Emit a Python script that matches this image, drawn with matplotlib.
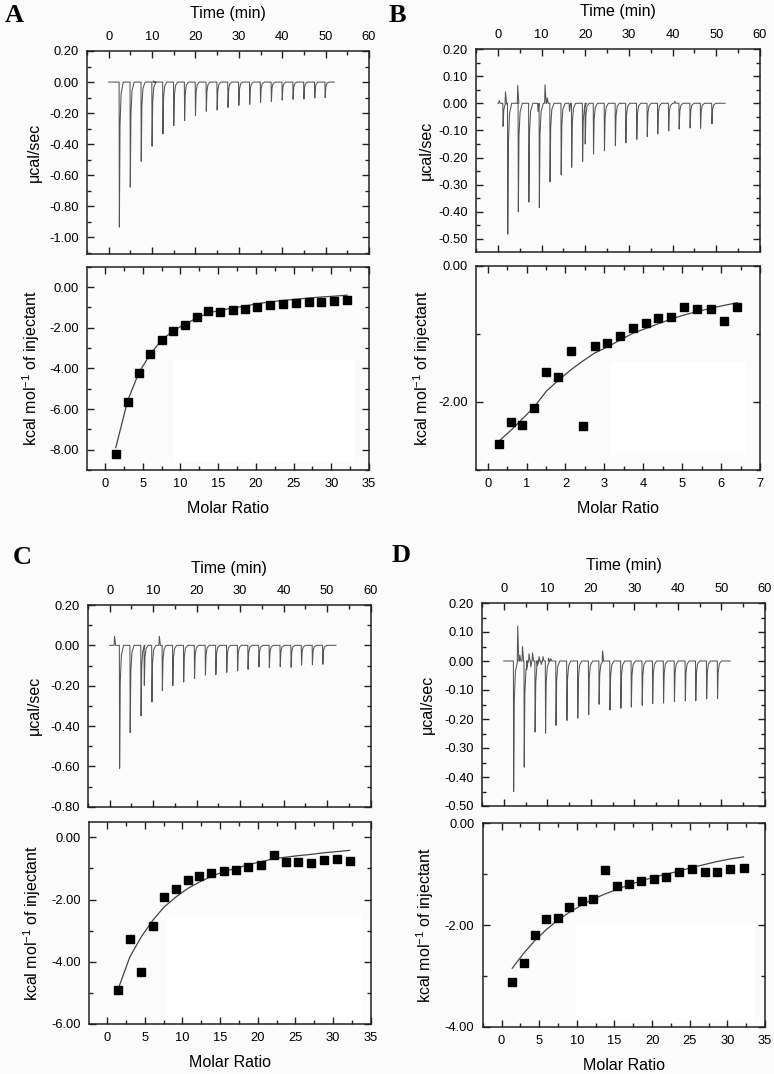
import matplotlib
matplotlib.use("Agg")
import matplotlib.pyplot as plt
from matplotlib.ticker import MultipleLocator, FormatStrFormatter
from matplotlib.patches import Rectangle

plt.rcParams['font.family'] = ['Liberation Sans', 'DejaVu Sans']
plt.rcParams['mathtext.default'] = 'regular'

# ---------------- data ----------------
# Panel A raw thermogram
A_inj_t = [2.46, 4.98, 7.5, 10.0, 12.5, 15.0, 17.5, 20.0, 22.5, 25.0, 27.5, 30.0,
           32.5, 35.0, 37.5, 40.0, 42.5, 45.0, 47.5, 49.9]
A_inj_h = [-0.934, -0.677, -0.51, -0.413, -0.334, -0.28, -0.248, -0.214, -0.188, -0.18,
           -0.163, -0.15, -0.143, -0.133, -0.124, -0.116, -0.111, -0.109, -0.103, -0.10]
A_art_t = [10.3]
A_art_h = [0.008]
# Panel A isotherm
A_ratio = [1.42, 2.98, 4.49, 6.0, 7.5, 9.06, 10.6, 12.2, 13.7, 15.3, 17.0, 18.6, 20.2,
           21.9, 23.6, 25.3, 27.0, 28.7, 30.4, 32.1]
A_heat = [-8.23, -5.66, -4.23, -3.30, -2.61, -2.15, -1.87, -1.49, -1.20, -1.25, -1.13,
          -1.08, -0.97, -0.90, -0.84, -0.77, -0.74, -0.72, -0.67, -0.62]
A_fit = [-7.9, -5.6, -4.2, -3.3, -2.6, -2.15, -1.82, -1.52, -1.28, -1.14, -1.03, -0.93,
         -0.82, -0.73, -0.66, -0.60, -0.54, -0.49, -0.45, -0.40]

# Panel B raw thermogram
B_inj_t = [2.27, 4.69, 7.1, 9.5, 11.95, 14.5, 16.9, 19.4, 21.9, 24.4, 26.9, 29.3, 31.8,
           34.2, 36.6, 39.1, 41.5, 44.0, 46.4, 49.0]
B_inj_h = [-0.482, -0.40, -0.364, -0.384, -0.289, -0.264, -0.236, -0.214, -0.187, -0.175,
           -0.156, -0.146, -0.133, -0.123, -0.113, -0.102, -0.095, -0.091, -0.092, -0.076]
B_art_t = [0.3, 1.2, 1.75, 4.55, 9.2, 10.8, 11.3, 16.4, 20.0, 40.5]
B_art_h = [0.01, -0.085, 0.042, 0.066, -0.03, 0.068, 0.02, -0.03, -0.15, 0.008]
# Panel B isotherm
B_ratio = [0.30, 0.59, 0.89, 1.2, 1.51, 1.82, 2.13, 2.44, 2.75, 3.08, 3.4, 3.73, 4.06,
           4.38, 4.72, 5.05, 5.39, 5.74, 6.07, 6.42]
B_heat = [-2.614, -2.295, -2.339, -2.084, -1.558, -1.631, -1.253, -2.354, -1.174, -1.130,
          -1.027, -0.914, -0.845, -0.762, -0.747, -0.600, -0.629, -0.629, -0.811, -0.604]
B_fit = [-2.57, -2.42, -2.25, -2.07, -1.84, -1.68, -1.53, -1.40, -1.28, -1.19, -1.09,
         -0.99, -0.92, -0.85, -0.78, -0.72, -0.67, -0.62, -0.58, -0.54]

# Panel C raw thermogram
C_inj_t = [2.27, 4.7, 7.2, 7.95, 9.7, 12.1, 14.5, 17.0, 19.5, 22.0, 24.4, 26.9, 29.4, 31.8,
           34.3, 36.7, 39.2, 41.7, 44.1, 46.6, 49.0]
C_inj_h = [-0.61, -0.433, -0.349, -0.198, -0.281, -0.225, -0.2, -0.182, -0.164, -0.147,
           -0.145, -0.134, -0.126, -0.119, -0.107, -0.111, -0.106, -0.109, -0.098, -0.096,
           -0.094]
C_art_t = [1.1, 11.4]
C_art_h = [0.045, 0.045]
# Panel C isotherm
C_ratio = [1.51, 3.03, 4.54, 6.06, 7.57, 9.13, 10.69, 12.24, 13.85, 15.5, 17.14, 18.75,
           20.4, 22.1, 23.7, 25.4, 27.07, 28.76, 30.54, 32.2]
C_heat = [-4.91, -3.28, -4.33, -2.86, -1.92, -1.65, -1.37, -1.26, -1.14, -1.07, -1.05,
          -0.96, -0.89, -0.56, -0.78, -0.81, -0.84, -0.74, -0.69, -0.76]
C_fit = [-4.85, -3.84, -3.2, -2.67, -2.24, -1.92, -1.65, -1.44, -1.26, -1.10, -1.0, -0.88,
         -0.79, -0.69, -0.64, -0.59, -0.55, -0.50, -0.46, -0.42]

# Panel D raw thermogram
D_inj_t = [2.27, 4.7, 7.2, 9.6, 12.0, 14.5, 17.0, 19.5, 21.9, 24.4, 26.9, 29.3, 31.8,
           34.2, 36.7, 39.2, 41.7, 44.1, 46.6, 49.1]
D_inj_h = [-0.45, -0.366, -0.245, -0.249, -0.222, -0.205, -0.197, -0.185, -0.149, -0.169,
           -0.163, -0.159, -0.153, -0.147, -0.145, -0.139, -0.138, -0.137, -0.13, -0.13]
D_art_t = [3.2, 3.7, 4.3, 5.3, 5.8, 6.2, 6.6, 7.6, 8.1, 8.6, 9.0, 10.3, 10.8, 22.7]
D_art_h = [0.12, 0.02, 0.05, -0.03, 0.025, -0.02, 0.028, -0.015, 0.015, -0.012, 0.015,
           0.01, 0.008, 0.035]
# Panel D isotherm
D_ratio = [1.42, 2.93, 4.45, 5.96, 7.51, 9.03, 10.63, 12.18, 13.74, 15.34, 16.94, 18.59,
           20.23, 21.88, 23.57, 25.26, 26.99, 28.68, 30.41, 32.15]
D_heat = [-3.12, -2.74, -2.20, -1.875, -1.862, -1.64, -1.52, -1.495, -0.918, -1.226, -1.20,
          -1.141, -1.10, -1.049, -0.951, -0.905, -0.951, -0.964, -0.905, -0.872]
D_fit = [-2.85, -2.56, -2.30, -2.09, -1.90, -1.75, -1.61, -1.49, -1.39, -1.30, -1.21,
         -1.13, -1.06, -1.0, -0.94, -0.87, -0.81, -0.75, -0.70, -0.66]

# ---------------- figure ----------------
W, H = 774, 1074
BG = '#fbfbfb'
fig = plt.figure(figsize=(W / 100, H / 100), dpi=100, facecolor=BG)

def rect(l, r, t, b):
    return [l / W, 1 - b / H, (r - l) / W, (b - t) / H]

TRACE = '#555555'

def thermogram(times, heights, art_t, art_h, t_end=52.0):
    ev = sorted(list(zip(times, heights)) + list(zip(art_t, art_h)))
    xs, ys = [0.0], [0.0]
    for t, h in ev:
        if h < -0.06:
            xs += [t - 0.06, t, t + 0.15, t + 0.4, t + 0.9]
            ys += [0.0, h, 0.3 * h, 0.08 * h, 0.0]
        else:
            xs += [t - 0.1, t, t + 0.25]
            ys += [0.0, h, 0.0]
    xs.append(t_end)
    ys.append(0.0)
    return xs, ys

def style(ax, xmaj, xmin, ymaj, ymin, yfmt='%.2f'):
    ax.set_facecolor(BG)
    ax.xaxis.set_major_locator(MultipleLocator(xmaj))
    ax.xaxis.set_minor_locator(MultipleLocator(xmin))
    ax.yaxis.set_major_locator(MultipleLocator(ymaj))
    ax.yaxis.set_minor_locator(MultipleLocator(ymin))
    ax.yaxis.set_major_formatter(FormatStrFormatter(yfmt))
    ax.tick_params(which='both', direction='in', top=True, right=True, labelsize=9.3,
                   width=1.0, color='#222222', pad=6)
    ax.tick_params(which='major', length=5)
    ax.tick_params(which='minor', length=3)
    for s in ax.spines.values():
        s.set_linewidth(1.1)
        s.set_color('#222222')

def top_panel(r, times, heights, art_t, art_h, ylim, ymaj, ymin, ylabx):
    ax = fig.add_axes(rect(*r))
    xs, ys = thermogram(times, heights, art_t, art_h)
    ax.plot(xs, ys, color=TRACE, lw=0.75)
    ax.set_xlim(-5, 60)
    ax.set_ylim(*ylim)
    style(ax, 10, 5, ymaj, ymin)
    ax.tick_params(axis='x', labeltop=True, labelbottom=False)
    ax.xaxis.set_label_position('top')
    ax.set_xlabel('Time (min)', fontsize=11.5)
    ax.xaxis.label.set_va('center')
    ax.xaxis.set_label_coords(0.5, 1.183)
    ax.set_ylabel('\u03bccal/sec', fontsize=11.5)
    ax.yaxis.set_label_coords(ylabx, 0.5)
    return ax

def bot_panel(r, ratio, heat, fit, xlim, xmaj, xmin, ylim, ymaj, ymin, ylabx, white):
    ax = fig.add_axes(rect(*r))
    ax.add_patch(Rectangle((white[0], white[1]), white[2], white[3],
                           transform=ax.transAxes, facecolor='white', edgecolor='none',
                           zorder=0))
    ax.plot(ratio, fit, color='#444444', lw=0.9, zorder=2)
    ax.plot(ratio, heat, 's', color='black', ms=5.3, zorder=3)
    ax.set_xlim(*xlim)
    ax.set_ylim(*ylim)
    style(ax, xmaj, xmin, ymaj, ymin)
    ax.xaxis.set_major_formatter(FormatStrFormatter('%d'))
    ax.set_xlabel('Molar Ratio', fontsize=11.5)
    ax.xaxis.label.set_va('center')
    ax.xaxis.set_label_coords(0.5, -0.19)
    ax.set_ylabel('kcal mol$^{-1}$ of injectant', fontsize=11.5)
    ax.yaxis.set_label_coords(ylabx, 0.5)
    return ax

# Panel A
top_panel((87, 369, 51, 254), A_inj_t, A_inj_h, A_art_t, A_art_h, (-1.107, 0.2), 0.2, 0.1, -0.16)
bot_panel((87, 369, 266.7, 470), A_ratio, A_heat, A_fit, (-2.4, 35), 5, 2.5, (-9, 1), 2, 1,
          -0.16, (0.304, 0.04, 0.646, 0.50))
# Panel B
top_panel((476, 760, 49, 252), B_inj_t, B_inj_h, B_art_t, B_art_h, (-0.548, 0.2), 0.1, 0.05, -0.15)
bot_panel((476, 760, 266, 470), B_ratio, B_heat, B_fit, (-0.3, 7), 1, 0.5, (-3, 0), 2, 1,
          -0.15, (0.475, 0.074, 0.474, 0.457))
# Panel C
top_panel((88, 370.7, 605, 806.7), C_inj_t, C_inj_h, C_art_t, C_art_h, (-0.8, 0.2), 0.2, 0.1, -0.163)
bot_panel((89, 370.7, 821.7, 1024), C_ratio, C_heat, C_fit, (-2.4, 35), 5, 2.5, (-6, 0.5), 2, 1,
          -0.163, (0.277, 0.011, 0.693, 0.528))
# Panel D
top_panel((482, 765, 603, 806), D_inj_t, D_inj_h, D_art_t, D_art_h, (-0.5, 0.2), 0.1, 0.05, -0.166)
bot_panel((482.7, 765, 823.3, 1026.7), D_ratio, D_heat, D_fit, (-2.5, 35), 5, 2.5, (-4, 0), 2, 1,
          -0.166, (0.332, 0.016, 0.632, 0.492))

# panel letters
for lab, x, y in [('A', 14, 16), ('B', 397, 16), ('C', 22, 557), ('D', 401, 556)]:
    fig.text(x / W, 1 - y / H, lab, fontsize=19, fontweight='bold',
             family=['Liberation Serif', 'DejaVu Serif'], ha='center', va='center')

fig.savefig('out.png', dpi=100, facecolor=fig.get_facecolor())
